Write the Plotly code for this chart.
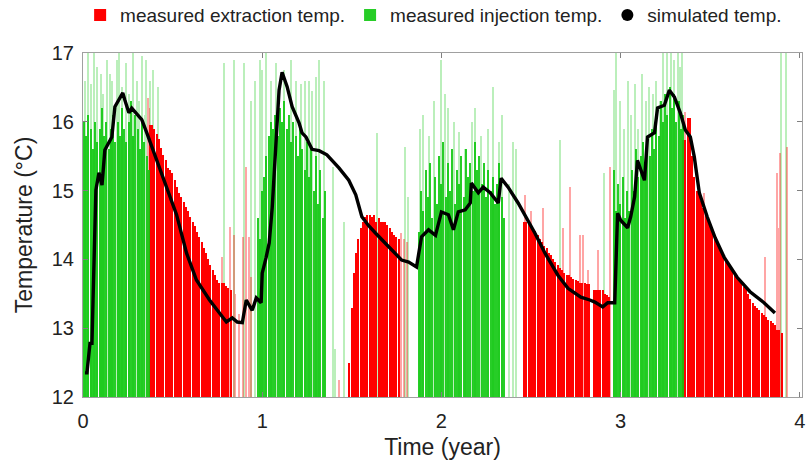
import plotly.graph_objects as go

STEP = 0.0125  # sampling interval of the measurements (year)

# ---- measured injection temperature (solid bars), segment start times + values
inj1_start = 0.00625
inj1_vals = [16.0, 15.8, 16.1, 15.9, 15.6, 16.0, 15.7, 15.9, 16.2, 15.8,
             16.0, 15.6, 15.9, 16.1, 15.7, 16.0, 15.8, 16.2, 15.9, 15.7,
             16.0, 16.3, 15.8, 16.1, 15.9, 15.6, 16.0, 15.7, 15.5, 15.3]
inj2_start = 0.975
inj2_vals = [14.6, 14.3, 15.0, 15.2, 15.5, 15.8, 16.0, 15.9, 16.1, 15.8,
             16.2, 16.0, 16.3, 15.9, 16.1, 15.7, 16.0, 15.8, 15.5, 15.9,
             15.6, 15.3, 15.7, 15.2, 15.6, 15.0, 15.5, 14.8, 15.3, 14.6, 15.0]
inj3_start = 1.875
inj3_vals = [14.4, 15.0, 14.7, 15.3, 14.9, 15.4, 14.6, 15.2, 14.8, 15.5,
             15.1, 15.7, 14.9, 15.4, 15.0, 15.6, 14.8, 15.3, 15.1, 15.5,
             14.9, 15.6, 15.2, 15.4, 15.0, 15.7, 15.3, 15.5, 15.1, 15.4,
             14.9, 15.3, 15.0, 15.2, 14.8, 15.1, 15.4, 14.9, 14.6]
inj4_start = 2.9625
inj4_vals = [15.3, 14.7, 15.1, 14.8, 15.2, 14.6, 15.0, 14.7, 15.3, 15.0,
             15.6, 15.2, 15.5, 15.7, 15.3, 15.8, 15.5, 15.9, 15.6, 16.1,
             15.8, 16.3, 16.0, 16.4, 16.1, 16.5, 16.2, 16.4, 16.0, 16.3,
             15.9, 16.1]

# ---- measured extraction temperature (solid bars)
ext1_start = 0.375
ext1_vals = [15.95, 15.95, 15.9, 15.83, 15.75, 15.62, 15.52, 15.44, 15.33, 15.3,
             15.25, 15.15, 15.05, 14.97, 14.9, 14.84, 14.76, 14.7, 14.62, 14.55,
             14.48, 14.4, 14.33, 14.25, 14.17, 14.09, 14.0, 13.92, 13.84, 13.77,
             13.7, 13.65, 13.65, 13.65, 13.62, 13.58, 13.55]
ext2_start = 1.4875
ext2_vals = [12.5, 13.3, 13.8, 14.1, 14.3, 14.45, 14.55, 14.62, 14.65, 14.65,
             14.62, 14.65, 14.55, 14.6, 14.55, 14.55, 14.55, 14.5, 14.45, 14.4,
             14.35, 14.33, 14.3]
ext3_start = 2.4625
ext3_vals = [14.55, 14.55, 14.55, 14.5, 14.46, 14.42, 14.35, 14.3, 14.25, 14.2,
             14.16, 14.1, 14.06, 14.0, 13.96, 13.92, 13.88, 13.85, 13.8, 13.77,
             13.77, 13.74, 13.72, 13.7, 13.68, 13.66, 13.66, 13.66, 13.64, 13.64,
             None, 13.56, 13.56, 13.56, 13.55, 13.55, 13.5, 13.48, 13.45]
ext4_start = 3.35
ext4_vals = [15.74, 15.74, 16.05, 16.05, 15.5, 15.2, 15.0, 14.95, 14.85, 14.75,
             14.65, 14.57, 14.5, 14.42, 14.35, 14.28, 14.22, 14.15, 14.08, 13.99,
             13.95, 13.9, 13.85, 13.8, 13.75, 13.7, 13.65, 13.6, 13.57, 13.5,
             13.42, 13.37, 13.33, 13.3, 13.26, 13.22, 13.19, 13.16, 13.12, 13.1,
             13.08, 13.05, 12.97, 12.97, 12.93]

# ---- isolated (faint) measurement spikes
inj_faint_t = [0.01, 0.03, 0.045, 0.06, 0.08, 0.1, 0.115, 0.135, 0.15, 0.165,
               0.19, 0.2, 0.22, 0.24, 0.26, 0.28, 0.3, 0.315, 0.33, 0.345,
               0.355, 0.375, 0.39, 0.42, 0.79, 0.845, 0.9, 0.94, 0.96, 0.99,
               1.0, 1.02, 1.05, 1.08, 1.12, 1.16, 1.19, 1.22, 1.24, 1.26,
               1.28, 1.3, 1.32, 1.345, 1.395, 1.41, 1.46, 1.64, 1.8, 1.815,
               1.88, 1.9, 1.93, 1.96, 2.0, 2.02, 2.04, 2.07, 2.1, 2.13,
               2.17, 2.19, 2.22, 2.26, 2.29, 2.32, 2.34, 2.38, 2.4, 2.42,
               2.66, 2.91, 2.965, 2.975, 3.0, 3.02, 3.04, 3.06, 3.08, 3.1,
               3.12, 3.14, 3.16, 3.18, 3.2, 3.22, 3.24, 3.26, 3.28, 3.3,
               3.32, 3.335, 3.345, 3.894, 3.922]
inj_faint_v = [16.6, 17.0, 16.55, 17.0, 16.8, 16.7, 16.4, 16.9, 16.7, 16.6,
               16.9, 17.0, 16.5, 16.85, 16.4, 17.0, 16.6, 16.3, 16.95, 16.1,
               16.9, 16.6, 16.75, 16.5, 16.85, 16.9, 16.85, 16.3, 16.6, 16.9,
               16.75, 17.0, 16.6, 16.85, 16.75, 16.9, 16.6, 16.55, 16.6, 16.6,
               16.45, 16.65, 16.9, 16.6, 15.35, 12.7, 14.55, 15.84, 15.63, 14.9,
               15.9, 16.1, 15.8, 16.3, 16.9, 16.4, 16.2, 16.0, 15.85, 15.6,
               16.0, 16.2, 15.8, 15.9, 16.5, 15.7, 16.1, 15.1, 15.7, 15.6,
               15.74, 15.26, 16.46, 17.0, 16.3, 15.9, 16.6, 16.1, 16.55, 15.9,
               16.7, 16.3, 16.5, 16.4, 16.6, 16.3, 17.0, 17.0, 17.0, 16.9,
               17.0, 16.8, 17.0, 17.0, 17.0]
ext_faint_t = [0.363, 0.37, 0.778, 0.822, 0.844, 0.85, 0.87, 0.894, 0.911, 0.928,
               0.94, 1.428, 1.775, 1.79, 1.81, 2.467, 2.5, 2.567, 2.678, 2.717,
               2.772, 2.789, 2.817, 2.872, 2.939, 3.36, 3.467, 3.806, 3.872, 3.88,
               3.889, 3.928]
ext_faint_v = [16.35, 16.2, 14.03, 14.47, 14.35, 13.5, 13.2, 14.33, 15.34, 14.33,
               13.74, 12.25, 14.38, 14.3, 14.25, 14.93, 14.7, 14.74, 14.46, 15.05,
               14.35, 14.35, 13.85, 14.14, 15.34, 16.14, 14.97, 14.03, 15.26, 14.46,
               15.55, 15.63]

# ---- simulated temperature
sim_t = [0.011, 0.022, 0.039, 0.05, 0.056, 0.072, 0.089, 0.106, 0.122, 0.161,
         0.178, 0.206, 0.222, 0.233, 0.256, 0.272, 0.306, 0.328, 0.356, 0.411,
         0.467, 0.522, 0.578, 0.633, 0.706, 0.761, 0.8, 0.833, 0.861, 0.889,
         0.911, 0.944, 0.967, 0.994, 1.0, 1.022, 1.039, 1.056, 1.078, 1.094,
         1.111, 1.122, 1.139, 1.167, 1.206, 1.222, 1.244, 1.278, 1.317, 1.361,
         1.389, 1.428, 1.483, 1.522, 1.556, 1.594, 1.633, 1.706, 1.778, 1.817,
         1.861, 1.889, 1.928, 1.967, 2.0, 2.039, 2.067, 2.094, 2.133, 2.161,
         2.167, 2.206, 2.233, 2.272, 2.317, 2.333, 2.372, 2.428, 2.483, 2.522,
         2.578, 2.65, 2.706, 2.778, 2.828, 2.856, 2.9, 2.928, 2.967, 2.983,
         3.0, 3.039, 3.056, 3.078, 3.094, 3.133, 3.15, 3.189, 3.206, 3.244,
         3.272, 3.3, 3.333, 3.361, 3.389, 3.411, 3.439, 3.483, 3.528, 3.578,
         3.65, 3.722, 3.8, 3.861]
sim_T = [12.35, 12.35, 12.78, 12.78, 13.41, 15.01, 15.26, 15.08, 15.59, 15.78,
         16.22, 16.35, 16.42, 16.32, 16.13, 16.2, 16.1, 16.03, 15.84, 15.44,
         15.05, 14.65, 14.09, 13.7, 13.41, 13.22, 13.09, 13.15, 13.09, 13.08,
         13.41, 13.26, 13.44, 13.37, 13.8, 14.03, 14.24, 14.76, 15.74, 16.46,
         16.72, 16.65, 16.51, 16.22, 15.98, 15.84, 15.78, 15.6, 15.58, 15.52,
         15.44, 15.33, 15.15, 14.94, 14.62, 14.49, 14.38, 14.18, 13.99, 13.96,
         13.89, 14.33, 14.43, 14.35, 14.69, 14.65, 14.43, 14.69, 14.72, 14.82,
         15.11, 14.97, 15.05, 14.97, 14.82, 15.18, 15.05, 14.82, 14.57, 14.38,
         14.09, 13.77, 13.58, 13.45, 13.41, 13.38, 13.31, 13.37, 13.37, 14.67,
         14.57, 14.46, 14.62, 14.91, 15.44, 15.15, 15.78, 15.84, 16.2, 16.24,
         16.46, 16.36, 16.13, 15.88, 15.78, 15.49, 14.97, 14.62, 14.31, 14.03,
         13.74, 13.53, 13.37, 13.22]

x_ticks = [0, 1, 2, 3, 4]
y_ticks = [12, 13, 14, 15, 16, 17]

RED = "#ff0000"
GREEN = "#10c810"
FONT = "Arial, 'Liberation Sans', sans-serif"


def seg(start, vals):
    return [start + STEP * i for i in range(len(vals))], vals


ext_t, ext_v = [], []
for s, v in [(ext1_start, ext1_vals), (ext2_start, ext2_vals),
             (ext3_start, ext3_vals), (ext4_start, ext4_vals)]:
    t, vv = seg(s, v)
    ext_t += t
    ext_v += vv
inj_t, inj_v = [], []
for s, v in [(inj1_start, inj1_vals), (inj2_start, inj2_vals),
             (inj3_start, inj3_vals), (inj4_start, inj4_vals)]:
    t, vv = seg(s, v)
    inj_t += t
    inj_v += vv

BW = 0.0078
fig = go.Figure()
fig.add_trace(go.Bar(x=inj_faint_t, y=inj_faint_v, width=BW, marker=dict(color=GREEN, line=dict(width=0)),
                     opacity=0.28, showlegend=False, hoverinfo="skip"))
fig.add_trace(go.Bar(x=ext_faint_t, y=ext_faint_v, width=BW, marker=dict(color=RED, line=dict(width=0)),
                     opacity=0.35, showlegend=False, hoverinfo="skip"))
fig.add_trace(go.Bar(x=ext_t, y=ext_v, width=BW, marker=dict(color=RED, line=dict(width=0)),
                     name="measured extraction temp."))
fig.add_trace(go.Bar(x=inj_t, y=inj_v, width=BW, marker=dict(color=GREEN, line=dict(width=0)),
                     opacity=0.9, name="measured injection temp."))
fig.add_trace(go.Scatter(x=sim_t, y=sim_T, mode="lines", line=dict(color="black", width=3.4),
                         showlegend=False))
fig.add_trace(go.Scatter(x=[None], y=[None], mode="markers", marker=dict(color="black", size=12),
                         name="simulated temp."))

axis_common = dict(showgrid=False, zeroline=False, showline=True, linecolor="#a0a0a0", linewidth=1,
                   mirror="ticks", ticks="inside", ticklen=5, tickcolor="#808080",
                   ticklabeloverflow="allow",
                   tickfont=dict(size=20, color="#222", family=FONT))
fig.update_layout(
    width=806, height=460,
    margin=dict(l=83, r=4, t=53, b=63, autoexpand=False),
    paper_bgcolor="white", plot_bgcolor="white",
    barmode="overlay", bargap=0,
    font=dict(family=FONT, color="#222"),
    legend=dict(orientation="h", x=-0.004, xanchor="left", y=1.11, yanchor="middle",
                font=dict(size=19, family=FONT, color="#222"), itemwidth=30,
                bgcolor="rgba(0,0,0,0)", traceorder="normal"),
    xaxis=dict(range=[0, 4.012], tickvals=x_ticks, ticklabelstandoff=6,
               title=dict(text="Time (year)", font=dict(size=23, family=FONT), standoff=8),
               **axis_common),
    yaxis=dict(range=[12, 17], tickvals=y_ticks, ticklabelstandoff=4,
               title=dict(text="Temperature (°C)", font=dict(size=23, family=FONT), standoff=12),
               **axis_common),
)
fig.write_html("out.html")
